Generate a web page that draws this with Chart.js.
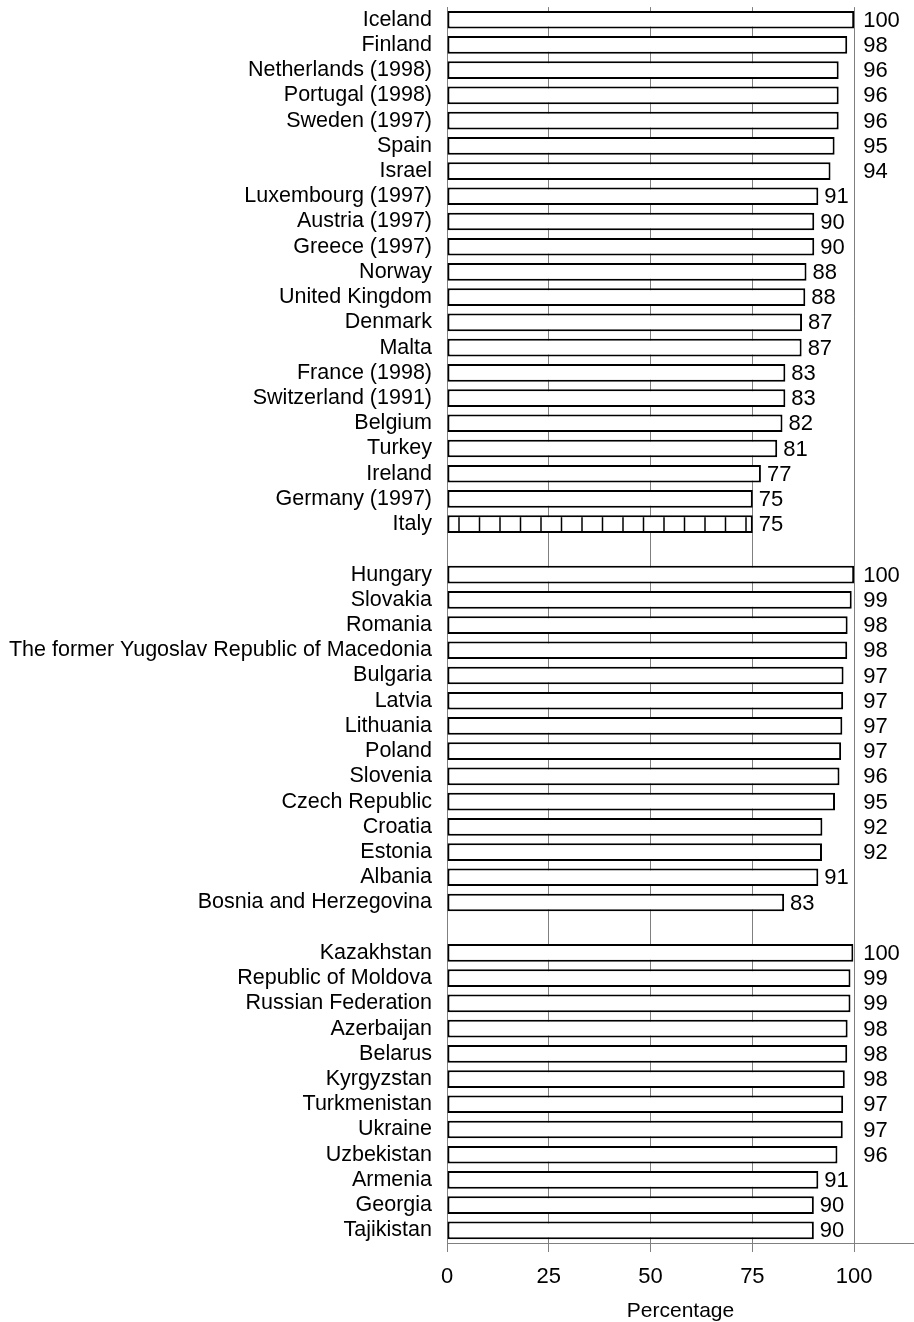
<!DOCTYPE html>
<html>
<head>
<meta charset="utf-8">
<script src="https://cdn.jsdelivr.net/npm/chart.js@4"></script>
<style>
  body { margin: 0; background: #fff; }
  #wrap { width: 914px; height: 1322px; position: relative; }
</style>
</head>
<body>
<div id="wrap"><canvas id="grafica"></canvas></div>
<script>
// ===============================
// DATOS
// ===============================
// '' = fila vacía entre grupos
const paises = [
  "Iceland", "Finland", "Netherlands (1998)", "Portugal (1998)", "Sweden (1997)",
  "Spain", "Israel", "Luxembourg (1997)", "Austria (1997)", "Greece (1997)",
  "Norway", "United Kingdom", "Denmark", "Malta", "France (1998)",
  "Switzerland (1991)", "Belgium", "Turkey", "Ireland", "Germany (1997)", "Italy",
  "",
  "Hungary", "Slovakia", "Romania", "The former Yugoslav Republic of Macedonia",
  "Bulgaria", "Latvia", "Lithuania", "Poland", "Slovenia", "Czech Republic",
  "Croatia", "Estonia", "Albania", "Bosnia and Herzegovina",
  "",
  "Kazakhstan", "Republic of Moldova", "Russian Federation", "Azerbaijan",
  "Belarus", "Kyrgyzstan", "Turkmenistan", "Ukraine", "Uzbekistan",
  "Armenia", "Georgia", "Tajikistan"
];

const porcentajes = [
  100, 98.3, 96.2, 96.2, 96.2,
  95.2, 94.2, 91.2, 90.2, 90.2,
  88.3, 88.0, 87.2, 87.1, 83.1,
  83.1, 82.4, 81.1, 77.1, 75.1, 75.1,
  null,
  100, 99.4, 98.4, 98.3,
  97.4, 97.3, 97.1, 96.8, 96.4, 95.3,
  92.2, 92.1, 91.2, 82.8,
  null,
  99.8, 99.1, 99.1, 98.4,
  98.3, 97.7, 97.3, 97.2, 95.9,
  91.2, 90.1, 90.1
];

const ticksX = [0, 25, 50, 75, 100];
const paisRayado = "Italy";

// ===============================
// TRAMA (cuadriculado de Italy)
// ===============================
function crearTrama() {
  const c = document.createElement("canvas");
  c.width = 41;
  c.height = 40;
  const g = c.getContext("2d");
  g.fillStyle = "#fff";
  g.fillRect(0, 0, 41, 40);
  g.strokeStyle = "#000";
  g.lineWidth = 1.5;
  [8, 28.5].forEach(x => {
    g.beginPath();
    g.moveTo(x, 0);
    g.lineTo(x, 40);
    g.stroke();
  });
  return document.getElementById("grafica").getContext("2d").createPattern(c, "repeat");
}
const trama = crearTrama();

// ===============================
// ETIQUETAS DE VALOR
// ===============================
const etiquetas = {
  id: "etiquetas",
  afterDatasetsDraw(chart) {
    const ctx = chart.ctx;
    const x = chart.scales.x;
    const meta = chart.getDatasetMeta(0);
    ctx.save();
    ctx.font = "22px 'Liberation Sans', Arial, sans-serif";
    ctx.fillStyle = "#000";
    ctx.textAlign = "left";
    ctx.textBaseline = "middle";
    meta.data.forEach((bar, i) => {
      const v = porcentajes[i];
      if (v === null || v === undefined) return;
      // los valores altos van a la derecha de la linea de 100
      const px = v >= 92 ? x.getPixelForValue(100) + 9 : x.getPixelForValue(v) + 6;
      ctx.fillText(String(Math.round(v)), px, bar.y + 1);
    });
    ctx.restore();
  }
};

Chart.defaults.font.family = "'Liberation Sans', Arial, sans-serif";
Chart.defaults.font.size = 21;
Chart.defaults.color = "#000";

new Chart(document.getElementById("grafica"), {
  type: "bar",
  data: {
    labels: paises,
    datasets: [{
      data: porcentajes,
      backgroundColor: paises.map(p => p === paisRayado ? trama : "#fff"),
      borderColor: "#000",
      borderWidth: 2,
      borderSkipped: false,
      barPercentage: 0.7,
      categoryPercentage: 1
    }]
  },
  options: {
    indexAxis: "y",
    responsive: true,
    maintainAspectRatio: false,
    animation: false,
    layout: { padding: { top: 1, right: 0, left: 0, bottom: 0 } },
    plugins: {
      legend: { display: false },
      tooltip: { enabled: false }
    },
    scales: {
      x: {
        min: 0,
        max: 114.7,
        afterBuildTicks(scale) {
          scale.ticks = ticksX.map(v => ({ value: v }));
        },
        afterFit(scale) {
          scale.height = 79;
        },
        ticks: { padding: 12, maxRotation: 0, font: { size: 22 } },
        grid: { color: "#808080", lineWidth: 1, tickLength: 9 },
        border: { display: true, color: "#808080", width: 1 },
        title: { display: true, text: "Percentage", font: { lineHeight: 1 }, padding: { top: 0, bottom: 0 } }
      },
      y: {
        afterFit(scale) {
          scale.width = 447;
        },
        ticks: { padding: 7, autoSkip: false, font: { size: 21.5, lineHeight: 0.01 } },
        grid: { display: false },
        border: { display: true, color: "#808080", width: 1 }
      }
    }
  },
  plugins: [etiquetas]
});
</script>
</body>
</html>
